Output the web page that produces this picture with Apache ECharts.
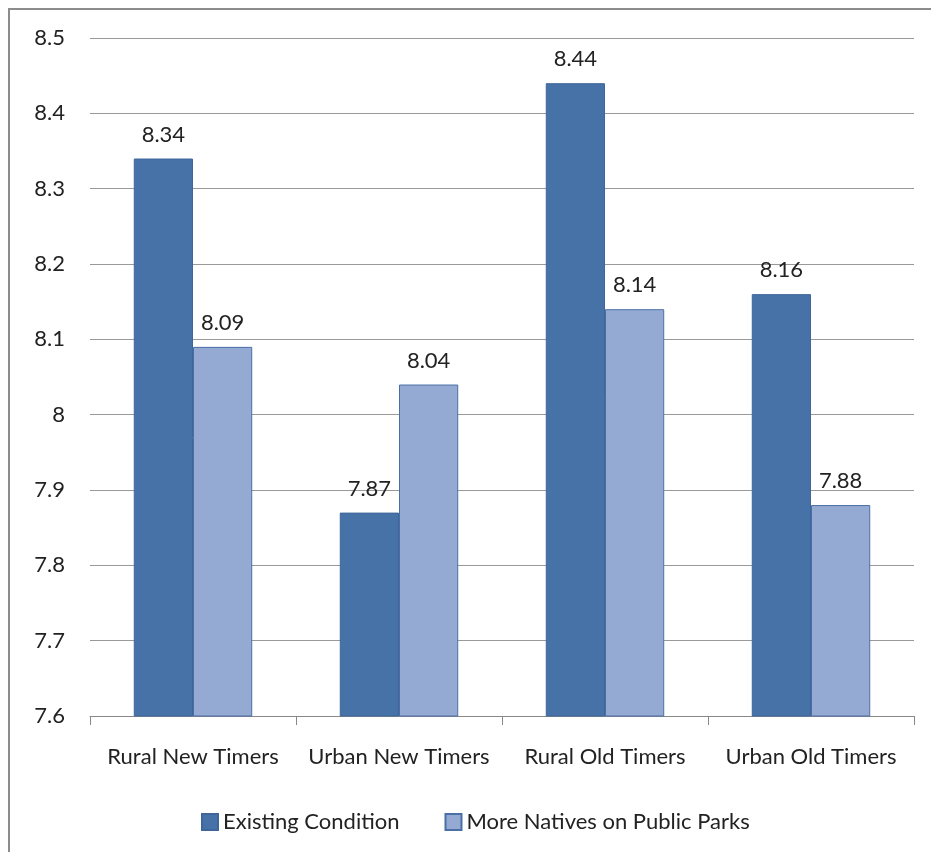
<!DOCTYPE html>
<html>
<head>
<meta charset="utf-8">
<script src="https://cdn.jsdelivr.net/npm/echarts@6/dist/echarts.min.js"></script>
<style>
  html, body { margin: 0; padding: 0; background: #fff; }
  #frame { position: absolute; left: 8px; top: 8px; width: 940px; height: 860px; border: 2px solid #8c8c8c; box-sizing: border-box; }
  #chart { position: absolute; left: 0; top: 0; width: 931px; height: 852px; }
</style>
</head>
<body>
<div id="frame"></div>
<div id="chart"></div>
<script>
var categories = ['Rural New Timers', 'Urban New Timers', 'Rural Old Timers', 'Urban Old Timers'];
var existing = [8.34, 7.87, 8.44, 8.16];
var moreNatives = [8.09, 8.04, 8.14, 7.88];
var seriesNames = ['Existing Condition', 'More Natives on Public Parks'];

var chart = echarts.init(document.getElementById('chart'));
var font = 'Lato, "Open Sans", sans-serif';

var labelCfg = {
  show: true,
  position: 'top',
  distance: 13,
  color: '#222',
  fontFamily: font,
  fontSize: 22,
  formatter: function (p) { return p.value.toFixed(2); }
};

chart.setOption({
  animation: false,
  grid: { left: 90, right: 17, top: 38, bottom: 136, containLabel: false },
  legend: {
    bottom: 14,
    left: 196,
    icon: 'rect',
    itemWidth: 16,
    itemHeight: 16,
    itemGap: 45,
    textStyle: { fontFamily: font, fontSize: 22, color: '#222' },
    data: seriesNames
  },
  xAxis: {
    type: 'category',
    data: categories,
    axisLine: { lineStyle: { color: '#888', width: 1 } },
    axisTick: { show: true, interval: 0, length: 9, lineStyle: { color: '#888' } },
    axisLabel: { interval: 0, fontFamily: font, fontSize: 22, color: '#222', margin: 30 }
  },
  yAxis: {
    type: 'value',
    min: 7.6,
    max: 8.5,
    interval: 0.1,
    axisLine: { show: false },
    axisTick: { show: false },
    axisLabel: {
      fontFamily: font, fontSize: 22, color: '#222', margin: 25,
      formatter: function (v) { return String(Math.round(v * 10) / 10); }
    },
    splitLine: { lineStyle: { color: '#999', width: 1 } }
  },
  series: [
    {
      name: seriesNames[0],
      type: 'bar',
      data: existing,
      barGap: '0%',
      barCategoryGap: '42.5%',
      itemStyle: { color: '#4672a8', borderColor: '#3e669a', borderWidth: 1 },
      label: labelCfg
    },
    {
      name: seriesNames[1],
      type: 'bar',
      data: moreNatives,
      itemStyle: { color: '#95aad3', borderColor: '#4a6fa5', borderWidth: 1 },
      label: labelCfg
    }
  ]
});
</script>
</body>
</html>
